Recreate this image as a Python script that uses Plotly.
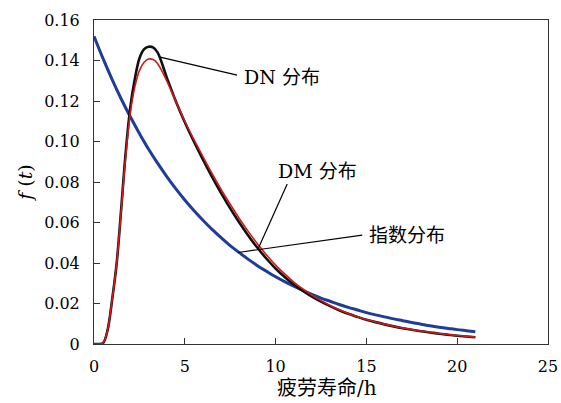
import plotly.graph_objects as go

# time grid (h)
t_rise = [0, 0.25, 0.5, 0.75, 1.0, 1.25, 1.5, 1.75, 2.0, 2.25, 2.5, 2.75, 3.0, 3.25, 3.5]
t_tail = [4.0, 4.5, 5.0, 5.5, 6.0, 6.5, 7.0, 7.5, 8.0, 8.5, 9.0, 9.5, 10.0, 10.5, 11.0,
          11.5, 12.0, 12.5, 13.0, 13.5, 14.0, 14.5, 15.0, 15.5, 16.0, 16.5, 17.0, 17.5,
          18.0, 18.5, 19.0, 19.5, 20.0, 20.5, 21.0]
t = t_rise + t_tail

dn_values = [0, 0, 0.0005, 0.007, 0.022, 0.040, 0.067, 0.095, 0.117, 0.131, 0.141, 0.1455,
             0.1468, 0.1465, 0.1440,
             0.1318, 0.1200, 0.1095, 0.1000, 0.0910, 0.0825, 0.0745, 0.0670, 0.0600, 0.0535,
             0.0475, 0.0421, 0.0373, 0.0331, 0.0294, 0.0262, 0.0234, 0.0209, 0.0187, 0.0167,
             0.0149, 0.0134, 0.0120, 0.0108, 0.0097, 0.0087, 0.0078, 0.0070, 0.0063, 0.0057,
             0.0051, 0.0046, 0.0041, 0.0037, 0.0033]

dm_values = [0, 0, 0.0005, 0.007, 0.022, 0.040, 0.066, 0.093, 0.114, 0.127, 0.135, 0.139,
             0.1407, 0.1405, 0.1385,
             0.1300, 0.1200, 0.1100, 0.1010, 0.0925, 0.0842, 0.0763, 0.0690, 0.0620, 0.0555,
             0.0495, 0.0440, 0.0390, 0.0346, 0.0306, 0.0272, 0.0241, 0.0214, 0.0190, 0.0169,
             0.0151, 0.0135, 0.0121, 0.0109, 0.0098, 0.0088, 0.0079, 0.0071, 0.0064, 0.0058,
             0.0052, 0.0047, 0.0042, 0.0038, 0.0034]

t_exp = [0, 0.5, 1.0, 1.5, 2.0, 2.5, 3.0, 3.5, 4.0, 4.5, 5.0, 5.5, 6.0, 6.5, 7.0, 7.5, 8.0,
         8.5, 9.0, 9.5, 10.0, 10.5, 11.0, 11.5, 12.0, 12.5, 13.0, 13.5, 14.0, 14.5, 15.0,
         15.5, 16.0, 16.5, 17.0, 17.5, 18.0, 18.5, 19.0, 19.5, 20.0, 20.5, 21.0]
exp_values = [0.1520, 0.1409, 0.1306, 0.1210, 0.1122, 0.1040, 0.0963, 0.0893, 0.0828, 0.0767,
              0.0711, 0.0659, 0.0611, 0.0566, 0.0525, 0.0486, 0.0451, 0.0418, 0.0387, 0.0359,
              0.0332, 0.0308, 0.0286, 0.0265, 0.0245, 0.0227, 0.0211, 0.0195, 0.0181, 0.0168,
              0.0155, 0.0144, 0.0134, 0.0124, 0.0115, 0.0106, 0.0098, 0.0090, 0.0083, 0.0077,
              0.0071, 0.0066, 0.0061]

x_ticks = [0, 5, 10, 15, 20, 25]
y_ticks = [0, 0.02, 0.04, 0.06, 0.08, 0.10, 0.12, 0.14, 0.16]
y_tick_text = ["0", "0.02", "0.04", "0.06", "0.08", "0.10", "0.12", "0.14", "0.16"]
x_title = "疲劳寿命/h"
y_title = "<i>f</i> (<i>t</i>)"

FONT = "DejaVu Serif, Noto Sans CJK SC"

fig = go.Figure()
fig.add_trace(go.Scatter(x=t_exp, y=exp_values, mode="lines",
                         line=dict(color="#1f3c99", width=3, shape="spline"), showlegend=False))
fig.add_trace(go.Scatter(x=t, y=dn_values, mode="lines",
                         line=dict(color="#111111", width=2.6, shape="spline"), showlegend=False))
fig.add_trace(go.Scatter(x=t, y=dm_values, mode="lines",
                         line=dict(color="#d01a1a", width=1.6, shape="spline"), showlegend=False))

# pointer lines
pointers = [((3.64, 0.1417), (7.88, 0.1328)),
            ((10.64, 0.0790), (9.04, 0.0470)),
            ((7.94, 0.0452), (14.77, 0.0538))]
for (x0, y0), (x1, y1) in pointers:
    fig.add_shape(type="line", x0=x0, y0=y0, x1=x1, y1=y1, xref="x", yref="y",
                  line=dict(color="black", width=1.2))

labels = [("DN 分布", 10.34, 0.1319), ("DM 分布", 12.29, 0.0854), ("指数分布", 17.25, 0.0538)]
for txt, lx, ly in labels:
    fig.add_annotation(x=lx, y=ly, text=txt, showarrow=False, xref="x", yref="y",
                       font=dict(family=FONT, size=19, color="black"))

# x-axis title placed as a paper-referenced annotation
fig.add_annotation(x=0.513, y=-0.137, xref="paper", yref="paper", text=x_title, showarrow=False,
                   xanchor="center", yanchor="middle", font=dict(family=FONT, size=20, color="black"))

fig.update_layout(
    width=561, height=403,
    margin=dict(l=94, r=13, t=20, b=59),
    paper_bgcolor="white", plot_bgcolor="white",
    font=dict(family=FONT, size=16, color="black"),
)
fig.update_xaxes(range=[0, 25], tickvals=x_ticks, ticks="inside", ticklen=6, tickcolor="#333",
                 showline=True, linecolor="#333", linewidth=1, mirror=True, showgrid=False,
                 zeroline=False, automargin=False, ticklabelstandoff=8,
                 tickfont=dict(size=16, family=FONT))
fig.update_yaxes(range=[0, 0.16], tickvals=y_ticks, ticktext=y_tick_text, ticks="inside", ticklen=6,
                 tickcolor="#333", showline=True, linecolor="#333", linewidth=1, mirror=True,
                 showgrid=False, zeroline=False, automargin=False, ticklabelstandoff=10,
                 title=dict(text=y_title, font=dict(family=FONT, size=19), standoff=6),
                 tickfont=dict(size=16, family=FONT))

fig.write_html("out.html", config={"displayModeBar": False},
               post_script="document.body.style.margin='0';document.body.style.overflow='hidden';")
